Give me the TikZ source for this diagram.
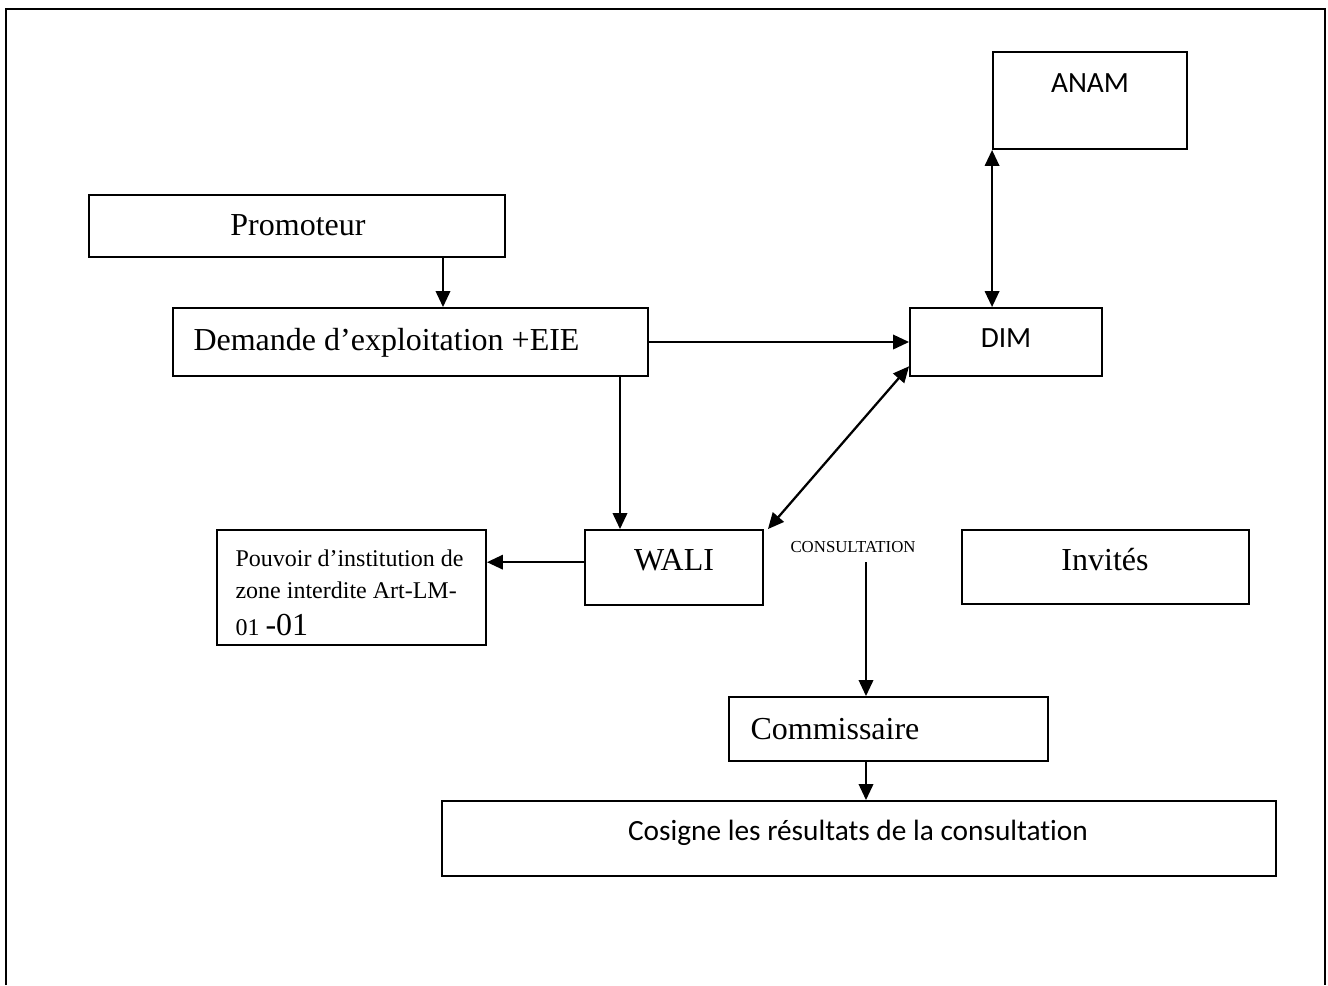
\documentclass[tikz,border=0pt]{standalone}
\usepackage{fontspec}
\setmainfont{Liberation Serif}
\newfontfamily\calibri[Ligatures=NoCommon]{Carlito}
\usetikzlibrary{arrows.meta}

\begin{document}
\begin{tikzpicture}[x=0.375pt,y=-0.375pt,
  box/.style n args={2}{draw, line width=0.7pt, inner sep=0pt,
    minimum width={#1*0.375pt}, minimum height={#2*0.375pt}},
  txt/.style={inner sep=0pt, font=\fontsize{12}{14}\selectfont},
  ctxt/.style={inner sep=0pt, font=\calibri\fontsize{11}{13}\selectfont},
  stxt/.style={inner sep=0pt, font=\fontsize{9}{11}\selectfont},
  tip/.style={Triangle[length=6pt,width=5.4pt]},
  arr/.style={line width=0.85pt, -{Triangle[length=6pt,width=5.4pt]}},
  darr/.style={line width=0.85pt, {Triangle[length=6pt,width=5.4pt]}-{Triangle[length=6pt,width=5.4pt]}}]

\useasboundingbox (0,0) rectangle (1328,985);

% outer frame, open at the bottom
\draw[line width=0.8pt] (6,985) -- (6,9) -- (1325,9) -- (1325,985);

% boxes
\node[box={194}{97}]  (anam) at (1090,100.5) {};
\node[box={416}{62}]  (prom) at (297,226) {};
\node[box={475}{68}]  (dem)  at (410.5,342) {};
\node[box={192}{68}]  (dim)  at (1006,342) {};
\node[box={178}{75}]  (wali) at (674,567.5) {};
\node[box={269}{115}] (pouv) at (351.5,587.5) {};
\node[box={287}{74}]  (inv)  at (1105.5,567) {};
\node[box={319}{64}]  (comm) at (888.5,729) {};
\node[box={834}{75}]  (cos)  at (859,838.5) {};

% labels
\node[ctxt] (anam-t) at (1090,83) {ANAM};
\node[txt, anchor=base] (prom-t) at (298,235) {Promoteur};
\node[txt, anchor=base west] (dem-t) at (193,350) {Demande d’exploitation +EIE};
\node[ctxt] (dim-t) at (1006,338) {DIM};
\node[txt, anchor=base] (wali-t) at (674,570) {WALI};
\node[stxt, anchor=base west] (pouv-l1) at (235,566) {Pouvoir d’institution de};
\node[stxt, anchor=base west] (pouv-l2) at (235,598) {zone interdite Art-LM-};
\node[stxt, anchor=base west] (pouv-l3) at (235,635) {01 {\fontsize{12}{14}\selectfont-01}};
\node[inner sep=0pt, font=\fontsize{6.3}{8}\selectfont, anchor=base west] (cons-t) at (790,552) {CONSULTATION};
\node[txt, anchor=base] (inv-t) at (1105,570) {Invités};
\node[txt, anchor=base west] (comm-t) at (750,739) {Commissaire};
\node[ctxt] (cos-t) at (858,833) {Cosigne les résultats de la consultation};

% guide points for the vertical connectors
\coordinate (xprom) at (443,0);
\coordinate (xdem)  at (620,0);
\coordinate (cons)  at (866,562);

% connectors
\draw[arr] (prom.south -| xprom) -- (dem.north -| xprom);
\draw[arr] (dem.east) -- (dim.west);
\draw[darr] (anam.south west) -- (dim.north -| anam.south west);
\draw[arr] (dem.south -| xdem) -- (wali.north -| xdem);
\draw[darr] ([yshift=4pt]dim.south west) -- ([xshift=1.5pt]wali.north east);
\draw[arr] ([yshift=2pt]wali.west) -- ([yshift=2pt]wali.west -| pouv.east);
\draw[arr] (cons) -- (cons |- comm.north);
\draw[arr] (cons |- comm.south) -- (cons |- cos.north);

\end{tikzpicture}
\end{document}
